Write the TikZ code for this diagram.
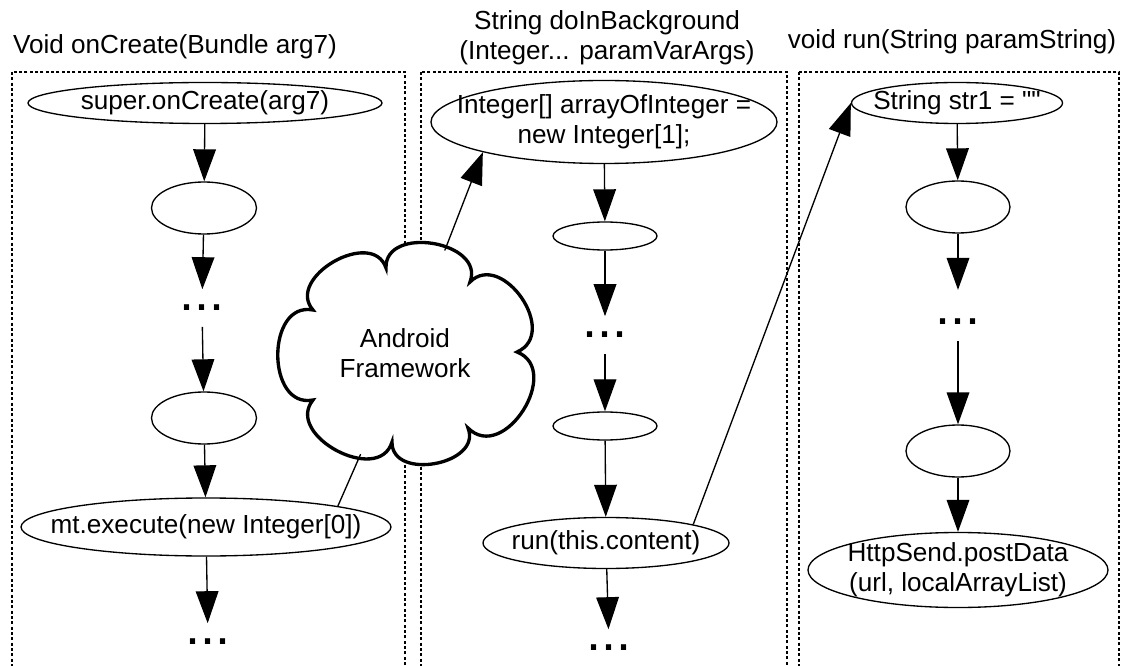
\documentclass[tikz,border=0pt]{standalone}
\usepackage{fontspec}
\setmainfont{Liberation Sans}
\usetikzlibrary{shapes.geometric,arrows.meta}
\tikzset{
  ell/.style 2 args={ellipse, draw, line width=1pt, inner sep=-60pt,
    minimum width=#1*0.75pt, minimum height=#2*0.75pt, align=center},
  flow/.style={line width=1pt, -{Triangle[length=24pt,width=17pt]}},
  plainline/.style={line width=1pt},
  dotsnode/.style={font=\fontsize{40.5}{40.5}\selectfont, text height=3.8pt,
    text depth=0pt, inner xsep=0pt, inner ysep=12pt},
  titletext/.style={align=center},
  panel/.style={draw, line width=1pt, dash pattern=on 2.2pt off 1.8pt},
  cloudline/.style={draw, fill=white, line width=2.5pt, line join=miter},
}
\begin{document}
\begin{tikzpicture}[x=0.75pt,y=-0.75pt,font=\fontsize{19.6}{22.5}\selectfont]
\useasboundingbox (0,0) rectangle (1131,666);
\clip (0,0) rectangle (1131,666);
\fill[white] (0,0) rectangle (1131,666);

% panels
\path[panel] (12,72) rectangle (405,700);
\path[panel] (421,72) rectangle (787,700);
\path[panel] (799,72) rectangle (1119,700);

% titles
\node[titletext] (t1) at (175,46.5) {Void onCreate(Bundle arg7)};
\node[titletext] (t2) at (607,38) {String doInBackground\\(Integer... paramVarArgs)};
\node[titletext] (t3) at (952,42) {void run(String paramString)};

% cloud
\path[cloudline] (313,310)
  .. controls (284.7,277.7) and (372.3,227.3) .. (386,268)
  .. controls (384.6,224.6) and (485.4,241.4) .. (470,282)
  .. controls (502,250) and (560,333) .. (517,352)
  .. controls (563,370) and (504,464) .. (468,428)
  .. controls (482.6,464.6) and (391.4,481.4) .. (392,442)
  .. controls (378.9,485.7) and (284.1,435.3) .. (313,400)
  .. controls (266,409) and (266,301) .. (313,310) -- cycle;
\node[ellipse, inner sep=-60pt, minimum width=257*0.75pt, minimum height=215*0.75pt, align=center]
  (fw) at (405,353) {Android\\Framework};

% left column
\node[ell={354}{41}] (a1) at (205,103) {super.onCreate(arg7)};
\node[ell={105}{52}] (a2) at (204,208) {};
\node[dotsnode] (a3) at (202,308) {...};
\node[ell={105}{52}] (a4) at (204,418) {};
\node[ell={370}{58}] (a5) at (206,527) {mt.execute(new Integer[0])};
\node[dotsnode] (a6) at (208,642) {...};

% middle column
\node[ell={346}{83}] (b1) at (604,122) {Integer[] arrayOfInteger =\\new Integer[1];};
\node[ell={104}{28}] (b2) at (605,236) {};
\node[dotsnode] (b3) at (605,335) {...};
\node[ell={104}{28}] (b4) at (605,426) {};
\node[ell={246}{51}] (b5) at (606,543) {run(this.content)};
\node[dotsnode] (b6) at (609,648) {...};

% right column
\node[ell={211}{41}] (c1) at (957,103) {String str1 = \textquotedbl\textquotedbl};
\node[ell={104}{52}] (c2) at (958,207) {};
\node[dotsnode] (c3) at (958,322) {...};
\node[ell={104}{52}] (c4) at (958,451) {};
\node[ell={300}{75}] (c5) at (958,570) {HttpSend.postData\\(url, localArrayList)};

% flow arrows
\draw[flow] (a1) -- (a2);
\draw[flow] (a2) -- (a3);
\draw[flow] (a3) -- (a4);
\draw[flow] (a4) -- (a5);
\draw[flow] (a5) -- (a6);
\draw[flow] (b1) -- (b2);
\draw[flow] (b2) -- (b3);
\draw[flow] (b3) -- (b4);
\draw[flow] (b4) -- (b5);
\draw[flow] (b5) -- (b6);
\draw[flow] (c1) -- (c2);
\draw[flow, shorten >=10pt] (c2) -- (c3);
\draw[flow] (c3) -- (c4);
\draw[flow] (c4) -- (c5);

% cross-method connectors
\draw[plainline] (a5.9) -- (fw);
\draw[flow] (fw) -- (b1.194);
\draw[flow] (b5.12) -- (c1.west);
\end{tikzpicture}
\end{document}
